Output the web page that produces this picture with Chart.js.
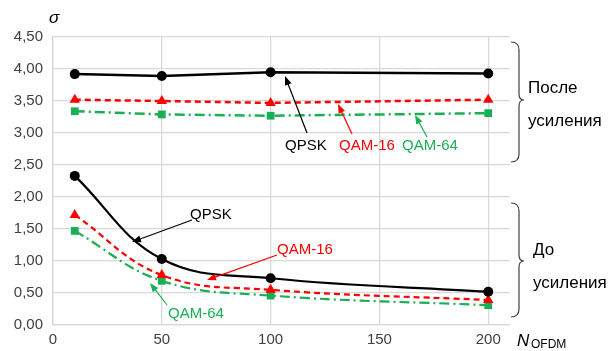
<!DOCTYPE html>
<html>
<head>
<meta charset="utf-8">
<script src="https://cdn.jsdelivr.net/npm/chart.js@4/dist/chart.umd.min.js"></script>
<style>
  html, body { margin: 0; padding: 0; background: #fff; }
  #wrap { width: 612px; height: 351px; }
</style>
</head>
<body>
<div id="wrap"><canvas id="sigmaChart" width="612" height="351"></canvas></div>
<script>
// N_OFDM points
const nOfdm = [10, 50, 100, 200];

// after amplification
const qpskAfter = [3.92, 3.89, 3.95, 3.93];
const qam16After = [3.52, 3.50, 3.47, 3.52];
const qam64After = [3.34, 3.29, 3.27, 3.31];

// before amplification
const qpskBefore = [2.33, 1.03, 0.73, 0.52];
const qam16Before = [1.72, 0.78, 0.55, 0.39];
const qam64Before = [1.47, 0.69, 0.46, 0.31];

const xTicks = [0, 50, 100, 150, 200];
const yTicks = [0, 0.5, 1, 1.5, 2, 2.5, 3, 3.5, 4, 4.5];

const BLACK = "#000000";
const RED = "#ff0000";
const GREEN = "#1aaf54";
const FONT = "'Liberation Sans', Arial, sans-serif";

const pts = arr => arr.map((v, i) => ({ x: nOfdm[i], y: v }));

function arrow(ctx, x1, y1, x2, y2, color) {
  const a = Math.atan2(y2 - y1, x2 - x1);
  const len = 9, w = 3.5;
  ctx.strokeStyle = color;
  ctx.fillStyle = color;
  ctx.lineWidth = 1.2;
  ctx.beginPath();
  ctx.moveTo(x1, y1);
  ctx.lineTo(x2 - Math.cos(a) * len * 0.8, y2 - Math.sin(a) * len * 0.8);
  ctx.stroke();
  ctx.beginPath();
  ctx.moveTo(x2, y2);
  ctx.lineTo(x2 - Math.cos(a) * len + Math.sin(a) * w, y2 - Math.sin(a) * len - Math.cos(a) * w);
  ctx.lineTo(x2 - Math.cos(a) * len - Math.sin(a) * w, y2 - Math.sin(a) * len + Math.cos(a) * w);
  ctx.closePath();
  ctx.fill();
}

function brace(ctx, x, top, bottom, mid) {
  ctx.strokeStyle = "#404040";
  ctx.lineWidth = 1.2;
  ctx.beginPath();
  ctx.moveTo(x, top);
  ctx.quadraticCurveTo(x + 8, top, x + 8, top + 8);
  ctx.lineTo(x + 8, mid - 6);
  ctx.quadraticCurveTo(x + 8, mid, x + 13, mid);
  ctx.quadraticCurveTo(x + 8, mid, x + 8, mid + 6);
  ctx.lineTo(x + 8, bottom - 8);
  ctx.quadraticCurveTo(x + 8, bottom, x, bottom);
  ctx.stroke();
}

function text(ctx, s, x, y, color, font, align) {
  ctx.fillStyle = color;
  ctx.font = font;
  ctx.textAlign = align || "left";
  ctx.textBaseline = "middle";
  ctx.fillText(s, x, y);
}

const notes = {
  id: "notes",
  afterDraw(chart) {
    const ctx = chart.ctx;
    ctx.save();
    // after amplification labels
    arrow(ctx, 307, 133, 285, 76, BLACK);
    text(ctx, "QPSK", 285, 146, "#000", "15px " + FONT);
    arrow(ctx, 352, 134, 338, 104, RED);
    text(ctx, "QAM-16", 339, 146, RED, "15px " + FONT);
    arrow(ctx, 427, 137, 415, 115, GREEN);
    text(ctx, "QAM-64", 402, 146, GREEN, "15px " + FONT);

    // before amplification labels
    arrow(ctx, 192, 220, 132, 242, BLACK);
    text(ctx, "QPSK", 190, 215, "#000", "15px " + FONT);
    arrow(ctx, 277, 255, 207, 280, RED);
    text(ctx, "QAM-16", 277, 250, RED, "15px " + FONT);
    arrow(ctx, 167, 305, 150, 283, GREEN);
    text(ctx, "QAM-64", 168, 314, GREEN, "15px " + FONT);

    // braces
    brace(ctx, 511, 42, 162, 100);
    text(ctx, "После", 528, 88, "#000", "17px " + FONT);
    text(ctx, "усиления", 528, 121, "#000", "17px " + FONT);
    brace(ctx, 511, 203, 317, 261);
    text(ctx, "До", 533, 250, "#000", "17px " + FONT);
    text(ctx, "усиления", 533, 283, "#000", "17px " + FONT);

    // axis titles
    text(ctx, "σ", 49, 18, "#000", "italic 17px " + FONT);
    text(ctx, "N", 517, 341, "#000", "italic 17px " + FONT);
    text(ctx, "OFDM", 531, 345, "#000", "12px " + FONT);
    ctx.restore();
  }
};

function line(label, arr, color, dash, style, radius, curved) {
  return {
    label: label,
    data: pts(arr),
    showLine: true,
    borderColor: color,
    backgroundColor: color,
    borderWidth: curved ? 2.2 : 2.5,
    borderDash: dash,
    pointStyle: style,
    pointRadius: radius,
    pointBorderWidth: 0,
    tension: curved ? 0.4 : 0
  };
}

new Chart(document.getElementById("sigmaChart"), {
  type: "scatter",
  data: {
    datasets: [
      line("QPSK после", qpskAfter, BLACK, [], "circle", 5, false),
      line("QAM-16 после", qam16After, RED, [6, 4], "triangle", 6, false),
      line("QAM-64 после", qam64After, GREEN, [10, 4, 2, 4], "rect", 5.5, false),
      line("QPSK до", qpskBefore, BLACK, [], "circle", 5, true),
      line("QAM-16 до", qam16Before, RED, [6, 4], "triangle", 6, true),
      line("QAM-64 до", qam64Before, GREEN, [10, 4, 2, 4], "rect", 5.5, true)
    ]
  },
  options: {
    responsive: false,
    animation: false,
    layout: { padding: { top: 37, right: 102, left: 0, bottom: 0 } },
    plugins: { legend: { display: false }, tooltip: { enabled: false } },
    scales: {
      x: {
        type: "linear",
        min: 0,
        max: 210,
        afterBuildTicks: s => { s.ticks = xTicks.map(v => ({ value: v })); },
        afterFit: s => { s.height = 26; },
        grid: { color: "#d9d9d9", lineWidth: 1.3, drawTicks: false },
        border: { color: "#d9d9d9", width: 1.3 },
        ticks: { padding: 6, color: "#404040", font: { family: FONT, size: 15 } }
      },
      y: {
        min: 0,
        max: 4.5,
        afterBuildTicks: s => { s.ticks = yTicks.map(v => ({ value: v })); },
        afterFit: s => { s.width = 53; },
        grid: { color: "#d9d9d9", lineWidth: 1.3, drawTicks: false },
        border: { color: "#d9d9d9", width: 1.3 },
        ticks: {
          padding: 10,
          color: "#404040",
          font: { family: FONT, size: 15 },
          callback: v => v.toFixed(2).replace(".", ",")
        }
      }
    }
  },
  plugins: [notes]
});
</script>
</body>
</html>
